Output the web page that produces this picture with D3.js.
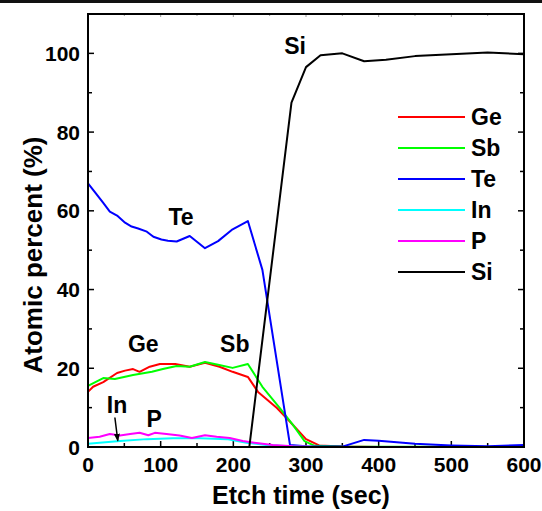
<!DOCTYPE html>
<html>
<head>
<meta charset="utf-8">
<script src="https://cdn.jsdelivr.net/npm/d3@7"></script>
<style>
  html, body { margin: 0; padding: 0; background: #fff; }
  svg { display: block; font-family: Arial, "Liberation Sans", sans-serif; font-weight: bold; }
</style>
</head>
<body>
<div id="chart"></div>
<script>
// element depth profiles, [etch time (s), atomic percent]
var geData = [[0,14],[7,15.3],[21,16.5],[40,18.8],[51,19.4],[62,19.8],[71,19.1],[85,20.4],[99,21.1],[120,21.1],[140,20.4],[161,21.4],[181,20.4],[199,19.1],[220,17.8],[234,14],[260,9.9],[278,6.4],[300,2],[318,0.4],[350,0.1],[400,0],[600,0]];
var sbData = [[0,15.5],[21,17.5],[37,17.3],[62,18.3],[88,19.1],[103,19.8],[122,20.6],[140,20.4],[161,21.6],[179,20.9],[199,20.1],[220,21.1],[240,15.3],[264,9.9],[282,5.6],[298,1.5],[312,0.3],[350,0.1],[600,0]];
var teData = [[0,67],[10,64.6],[21,62],[30,59.8],[40,58.8],[51,57],[60,56],[69,55.5],[81,54.7],[90,53.4],[101,52.7],[110,52.4],[122,52.2],[140,53.6],[161,50.5],[179,52.3],[199,55.3],[220,57.4],[240,45],[278,0.5],[300,0.2],[350,0.1],[380,1.8],[400,1.6],[450,0.8],[500,0.4],[550,0.2],[600,0.5]];
var inData = [[0,0.8],[44,1.5],[81,2],[117,2.2],[154,2.2],[191,2],[218,1.1],[245,0.5],[278,0.2],[320,0],[600,0]];
var pData = [[0,2.3],[16,2.6],[30,3.3],[44,2.9],[58,3.3],[71,3.6],[83,3.0],[92,3.6],[108,3.3],[126,2.9],[143,2.3],[161,3.0],[177,2.6],[195,2.3],[213,1.5],[232,1.0],[254,0.5],[282,0.2],[320,0],[600,0]];
var siData = [[222,0],[280,87.5],[300,96.5],[320,99.5],[350,100],[380,98],[410,98.4],[450,99.3],[500,99.8],[550,100.2],[600,99.8]];

var seriesNames = ['Ge', 'Sb', 'Te', 'In', 'P', 'Si'];
var seriesColors = ['#ff0000', '#00ff00', '#0000ff', '#00ffff', '#ff00ff', '#000000'];
var xTicks = [0, 100, 200, 300, 400, 500, 600];
var yTicks = [0, 20, 40, 60, 80, 100];

var W = 542, H = 511;
var margin = { top: 14, right: 18, bottom: 64, left: 88 };

var svg = d3.select('#chart').append('svg')
    .attr('width', W)
    .attr('height', H);

// dark band across the very top of the figure
svg.append('rect').attr('x', 0).attr('y', 0).attr('width', W).attr('height', 3).attr('fill', '#111');

var x = d3.scaleLinear().domain([0, 600]).range([margin.left, W - margin.right]);
var y = d3.scaleLinear().domain([0, 110]).range([H - margin.bottom, margin.top]);

var x0 = x.range()[0], x1 = x.range()[1], y0 = y.range()[0], y1 = y.range()[1];

// minor ticks
var minorX = d3.range(50, 600, 100);
var minorY = d3.range(10, 110, 20);

var ticks = svg.append('g').attr('stroke', '#000').attr('stroke-width', 1.5);
xTicks.forEach(function (t) {
    ticks.append('line').attr('x1', x(t)).attr('x2', x(t)).attr('y1', y0).attr('y2', y0 - 6);
    ticks.append('line').attr('x1', x(t)).attr('x2', x(t)).attr('y1', y1).attr('y2', y1 + 3).attr('stroke', '#999').attr('stroke-width', 1);
});
minorX.forEach(function (t) {
    ticks.append('line').attr('x1', x(t)).attr('x2', x(t)).attr('y1', y0).attr('y2', y0 - 4);
    ticks.append('line').attr('x1', x(t)).attr('x2', x(t)).attr('y1', y1).attr('y2', y1 + 2).attr('stroke', '#999').attr('stroke-width', 1);
});
yTicks.forEach(function (v) {
    ticks.append('line').attr('x1', x0).attr('x2', x0 + 6).attr('y1', y(v)).attr('y2', y(v));
    ticks.append('line').attr('x1', x1).attr('x2', x1 - 6).attr('y1', y(v)).attr('y2', y(v));
});
minorY.forEach(function (v) {
    ticks.append('line').attr('x1', x0).attr('x2', x0 + 4).attr('y1', y(v)).attr('y2', y(v));
    ticks.append('line').attr('x1', x1).attr('x2', x1 - 4).attr('y1', y(v)).attr('y2', y(v));
});

// tick labels
svg.append('g').selectAll('text').data(xTicks).enter().append('text')
    .attr('x', function (d) { return x(d); })
    .attr('y', 472)
    .attr('text-anchor', 'middle')
    .attr('font-size', '21px')
    .text(function (d) { return d; });

svg.append('g').selectAll('text').data(yTicks).enter().append('text')
    .attr('x', 80)
    .attr('y', function (d) { return y(d) + 7.5; })
    .attr('text-anchor', 'end')
    .attr('font-size', '21px')
    .text(function (d) { return d; });

// axis titles
svg.append('text')
    .attr('x', 301)
    .attr('y', 504)
    .attr('text-anchor', 'middle')
    .attr('font-size', '25px')
    .text('Etch time (sec)');

svg.append('text')
    .attr('transform', 'translate(42,255) rotate(-90)')
    .attr('text-anchor', 'middle')
    .attr('font-size', '26px')
    .text('Atomic percent (%)');

// data lines
var line = d3.line()
    .x(function (d) { return x(d[0]); })
    .y(function (d) { return y(d[1]); });

var allData = [geData, sbData, teData, inData, pData, siData];
var plot = svg.append('g');
plot.append('clipPath').attr('id', 'clip').append('rect')
    .attr('x', x0).attr('y', y1).attr('width', x1 - x0).attr('height', y0 - y1);

plot.selectAll('path').data(allData).enter().append('path')
    .attr('d', line)
    .attr('fill', 'none')
    .attr('clip-path', 'url(#clip)')
    .attr('stroke', function (d, i) { return seriesColors[i]; })
    .attr('stroke-width', 2)
    .attr('stroke-linejoin', 'round');

// frame
svg.append('rect')
    .attr('x', x0).attr('y', y1)
    .attr('width', x1 - x0).attr('height', y0 - y1)
    .attr('fill', 'none')
    .attr('stroke', '#000')
    .attr('stroke-width', 2);

// legend
var legend = svg.append('g');
seriesNames.forEach(function (name, i) {
    var ly = 117 + i * 31;
    legend.append('line')
        .attr('x1', 398).attr('x2', 465)
        .attr('y1', ly).attr('y2', ly)
        .attr('stroke', seriesColors[i])
        .attr('stroke-width', 2);
    legend.append('text')
        .attr('x', 471).attr('y', ly + 8)
        .attr('font-size', '23px')
        .text(name);
});

// in-plot labels
var labels = [
    { t: 'Te', x: 128, v: 56.4 },
    { t: 'Si', x: 285, v: 99.8 },
    { t: 'Ge', x: 76, v: 24.1 },
    { t: 'Sb', x: 202, v: 24.1 },
    { t: 'In', x: 40, v: 8.6 },
    { t: 'P', x: 91, v: 5.1 }
];
svg.append('g').selectAll('text').data(labels).enter().append('text')
    .attr('x', function (d) { return x(d.x); })
    .attr('y', function (d) { return y(d.v); })
    .attr('text-anchor', 'middle')
    .attr('font-size', '23px')
    .text(function (d) { return d.t; });

// arrow from "In" to the In curve
svg.append('defs').append('marker')
    .attr('id', 'arrowhead')
    .attr('markerWidth', 8)
    .attr('markerHeight', 8)
    .attr('refX', 7)
    .attr('refY', 4)
    .attr('orient', 'auto')
    .attr('markerUnits', 'userSpaceOnUse')
    .append('polygon')
    .attr('points', '0 1, 8 4, 0 7')
    .attr('fill', '#000');

svg.append('line')
    .attr('x1', x(37)).attr('y1', y(7.5))
    .attr('x2', x(41)).attr('y2', y(1.6))
    .attr('stroke', '#000')
    .attr('stroke-width', 1.5)
    .attr('marker-end', 'url(#arrowhead)');
</script>
</body>
</html>
